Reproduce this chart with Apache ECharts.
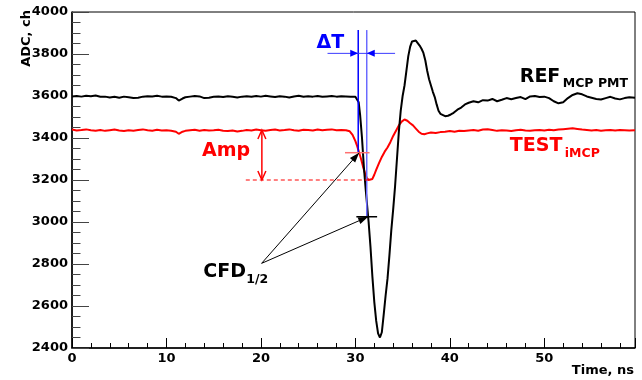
<!DOCTYPE html>
<html>
<head>
<meta charset="utf-8">
<script src="https://cdn.jsdelivr.net/npm/echarts@6/dist/echarts.min.js"></script>
<style>
html,body{margin:0;padding:0;background:#fff;}
#main{width:642px;height:380px;}
</style>
</head>
<body>
<div id="main"></div>
<script>
// ---- data (time in ns, ADC in channels) ----
const refT = [0,0.5,1,1.5,2,2.5,3,3.5,4,4.5,5,5.5,6,6.5,7,7.5,8,8.5,9,9.5,10,10.5,11,11.3,11.7,12,12.5,13,13.5,14,14.5,15,15.5,16,16.5,17,17.5,18,18.5,19,19.5,20,20.5,21,21.5,22,22.5,23,23.5,24,24.5,25,25.5,26,26.5,27,27.5,28,28.5,29,29.5,30,30.2,30.35,30.5,30.7,30.9,31.1,31.3,31.4,31.6,31.8,32.0,32.2,32.4,32.6,32.8,33.0,33.2,33.4,33.6,33.8,34.0,34.2,34.4,34.6,34.8,35.0,35.2,35.4,35.6,35.8,36.0,36.2,36.4,36.6,36.8,37.0,37.2,37.4,37.6,37.8,38.0,38.2,38.4,38.6,38.8,39.0,39.2,39.5,39.8,40.1,40.4,40.8,41.2,41.6,42,42.5,43,43.5,44,44.5,45,45.5,46,46.5,47,47.5,48,48.5,49,49.5,50,50.5,51,51.5,52,52.5,53,53.5,54,54.5,55,55.5,56,56.5,57,57.5,58,58.5,59,59.6];
const refV = [3598,3600,3597,3601,3599,3602,3596,3597,3593,3596,3592,3597,3594,3591,3592,3597,3599,3598,3601,3597,3598,3596,3590,3578,3588,3594,3597,3600,3598,3590,3592,3596,3598,3595,3599,3596,3593,3597,3599,3596,3600,3597,3601,3598,3595,3599,3597,3593,3598,3601,3596,3599,3597,3600,3596,3598,3600,3597,3599,3598,3597,3596,3592,3570,3510,3400,3260,3150,3050,3000,2880,2740,2620,2530,2470,2450,2475,2560,2650,2730,2840,2960,3060,3170,3300,3430,3530,3600,3650,3720,3790,3835,3860,3866,3864,3855,3840,3825,3805,3770,3720,3680,3650,3620,3595,3560,3530,3515,3508,3504,3506,3512,3520,3535,3545,3560,3568,3575,3570,3580,3578,3586,3575,3582,3590,3585,3590,3595,3585,3598,3600,3595,3597,3590,3575,3565,3570,3590,3605,3613,3608,3598,3592,3586,3583,3590,3596,3588,3584,3590,3594,3592];

const testT = [0,0.5,1,1.5,2,2.5,3,3.5,4,4.5,5,5.5,6,6.5,7,7.5,8,8.5,9,9.5,10,10.5,11,11.3,11.7,12,12.5,13,13.5,14,14.5,15,15.5,16,16.5,17,17.5,18,18.5,19,19.5,20,20.5,21,21.5,22,22.5,23,23.5,24,24.5,25,25.5,26,26.5,27,27.5,28,28.5,29,29.4,29.7,30.0,30.2,30.4,30.6,30.8,31.0,31.2,31.4,31.6,31.8,32.0,32.2,32.5,32.8,33.1,33.4,33.7,34.0,34.3,34.6,34.9,35.2,35.5,35.8,36.1,36.4,36.7,37.0,37.3,37.6,38,38.5,39,39.5,40,40.5,41,41.5,42,42.5,43,43.5,44,44.5,45,45.5,46,46.5,47,47.5,48,48.5,49,49.5,50,50.5,51,51.5,52,52.5,53,53.5,54,54.5,55,55.5,56,56.5,57,57.5,58,58.5,59,59.6];
const testV = [3440,3436,3438,3441,3437,3435,3438,3434,3437,3440,3436,3433,3437,3435,3438,3441,3437,3435,3439,3436,3437,3435,3430,3420,3430,3434,3437,3439,3435,3438,3436,3437,3439,3435,3433,3436,3431,3434,3438,3436,3440,3437,3435,3438,3440,3436,3438,3441,3437,3435,3439,3438,3436,3440,3437,3439,3441,3437,3438,3437,3432,3415,3385,3360,3330,3300,3265,3235,3210,3200,3198,3205,3225,3248,3280,3310,3335,3355,3380,3410,3435,3460,3478,3488,3482,3470,3460,3445,3430,3420,3418,3422,3426,3424,3428,3430,3433,3430,3435,3433,3436,3438,3435,3440,3442,3438,3434,3437,3436,3433,3437,3439,3436,3434,3437,3438,3436,3439,3437,3440,3442,3444,3446,3443,3440,3438,3436,3438,3435,3437,3438,3436,3438,3437,3436,3437];

// annotation anchor points (data coordinates)
const cfdRef = [31.3, 3025];
const cfdTest = [30.4, 3330];
const edgeRefT = 30.3, edgeTestT = 31.2;
const ampTop = 3438, ampBottom = 3200;

const FONT = '"DejaVu Sans", "Liberation Sans", sans-serif';
const chart = echarts.init(document.getElementById('main'), null, {renderer: 'canvas'});

function pairs(t, v) { return t.map((x, i) => [x, v[i]]); }

chart.setOption({
  animation: false,
  backgroundColor: '#fff',
  grid: {left: 72, right: 7, top: 12, bottom: 32, show: true, borderColor: '#000', borderWidth: 1},
  xAxis: {
    type: 'value', min: 0, max: 59.6, interval: 10,
    axisLine: {lineStyle: {color: '#000', width: 1.5}},
    axisTick: {inside: true, length: 10, lineStyle: {color: '#000'}},
    minorTick: {show: true, splitNumber: 5, length: 5, lineStyle: {color: '#000'}},
    splitLine: {show: false},
    axisLabel: {showMaxLabel: false, color: '#000', fontFamily: FONT, fontWeight: 'bold', fontSize: 13, margin: 4, formatter: v => String(v)}
  },
  yAxis: {
    type: 'value', min: 2400, max: 4000, interval: 200,
    axisLine: {show: true, lineStyle: {color: '#000', width: 1.5}},
    axisTick: {show: true, inside: true, length: 17, lineStyle: {color: '#444'}},
    minorTick: {show: true, splitNumber: 4, length: 8.5, lineStyle: {color: '#444'}},
    splitLine: {show: false},
    axisLabel: {color: '#000', fontFamily: FONT, fontWeight: 'bold', fontSize: 13, margin: 4, formatter: v => String(v)}
  },
  series: [
    {type: 'line', data: pairs(refT, refV), showSymbol: false, lineStyle: {color: '#000', width: 2}, z: 3},
    {type: 'line', data: pairs(testT, testV), showSymbol: false, lineStyle: {color: '#ff0000', width: 2}, z: 2}
  ]
});

function P(x, y) { return chart.convertToPixel({gridIndex: 0}, [x, y]); }
function line(a, b, color, w, dash) {
  return {type: 'line', shape: {x1: a[0], y1: a[1], x2: b[0], y2: b[1]}, style: {stroke: color, lineWidth: w, lineDash: dash || null}, z: 10};
}
function filledHead(tip, from, color, len, half) {
  const dx = tip[0] - from[0], dy = tip[1] - from[1];
  const L = Math.hypot(dx, dy), ux = dx / L, uy = dy / L;
  const bx = tip[0] - ux * len, by = tip[1] - uy * len;
  return {type: 'polygon', shape: {points: [tip, [bx - uy * half, by + ux * half], [bx + uy * half, by - ux * half]]}, style: {fill: color}, z: 11};
}
function openHead(tip, from, color, len, half, w) {
  const dx = tip[0] - from[0], dy = tip[1] - from[1];
  const L = Math.hypot(dx, dy), ux = dx / L, uy = dy / L;
  const bx = tip[0] - ux * len, by = tip[1] - uy * len;
  return {type: 'polyline', shape: {points: [[bx - uy * half, by + ux * half], tip, [bx + uy * half, by - ux * half]]}, style: {stroke: color, lineWidth: w, fill: null}, z: 11};
}
function text(p, str, size, color, align, extra) {
  return Object.assign({type: 'text', x: p[0], y: p[1], style: {text: str, font: 'bold ' + size + 'px ' + FONT, fill: color, align: align || 'left', verticalAlign: 'middle'}, z: 12}, extra || {});
}

const g = [];
// blue edge lines
const topV = 3914;
g.push(line(P(edgeRefT, topV), P(edgeRefT, cfdTest[1]), '#0000ff', 1.5));
g.push(line(P(edgeTestT, topV), P(edgeTestT, cfdRef[1]), '#6a6aff', 1.5));
// delta T arrows
const dtV = 3803;
const aL = P(edgeRefT, dtV), aR = P(edgeTestT, dtV);
g.push(line(P(27.05, dtV), P(34.2, dtV), '#3a3aff', 1));
g.push(filledHead(aL, [aL[0] - 10, aL[1]], '#0000ff', 8, 3.5));
g.push(filledHead(aR, [aR[0] + 10, aR[1]], '#0000ff', 8, 3.5));
g.push(text(P(27.35, 3852), 'ΔT', 19, '#0000ff', 'center'));
// CFD level marks
g.push(line(P(28.9, cfdTest[1]), P(31.5, cfdTest[1]), '#ff7070', 1.5));
g.push(line(P(30.1, cfdRef[1]), P(32.3, cfdRef[1]), '#000', 1.5));
// amplitude
g.push(line(P(18.4, ampBottom), P(31.6, ampBottom), '#ff0000', 1, [4, 3]));
const ampA = P(20.1, ampTop), ampB = P(20.1, ampBottom);
g.push(line(ampA, ampB, '#ff0000', 1.5));
g.push(openHead(ampA, ampB, '#ff0000', 9, 4, 1.5));
g.push(openHead(ampB, ampA, '#ff0000', 9, 4, 1.5));
g.push(text(P(16.3, 3337), 'Amp', 19, '#ff0000', 'center'));
// CFD arrows
const src = P(20.07, 2803);
const tipT = P(cfdTest[0], cfdTest[1]), tipR = P(cfdRef[0] + 0.05, cfdRef[1]);
g.push(line(src, tipT, '#000', 1));
g.push(line(src, tipR, '#000', 1));
g.push(filledHead(tipT, src, '#000', 10, 3.5));
g.push(filledHead(tipR, src, '#000', 10, 3.5));
const cfdPos = P(13.9, 2760);
g.push(text(cfdPos, 'CFD', 19, '#000', 'left'));
g.push(text([cfdPos[0] + 43, cfdPos[1] + 7], '1/2', 12.5, '#000', 'left'));
// series labels
const refPos = P(47.4, 3690);
g.push(text(refPos, 'REF', 19, '#000', 'left'));
g.push(text([refPos[0] + 43, refPos[1] + 7], 'MCP PMT', 12.5, '#000', 'left'));
const testPos = P(46.35, 3362);
g.push(text(testPos, 'TEST', 19, '#ff0000', 'left'));
g.push(text([testPos[0] + 55, testPos[1] + 8], 'iMCP', 12.5, '#ff0000', 'left'));
// axis titles
g.push(text([634, 371], 'Time, ns', 13, '#000', 'right'));
g.push(text([27, 10], 'ADC, ch', 13, '#000', 'right', {rotation: Math.PI / 2}));

chart.setOption({graphic: {elements: g}});
</script>
</body>
</html>
